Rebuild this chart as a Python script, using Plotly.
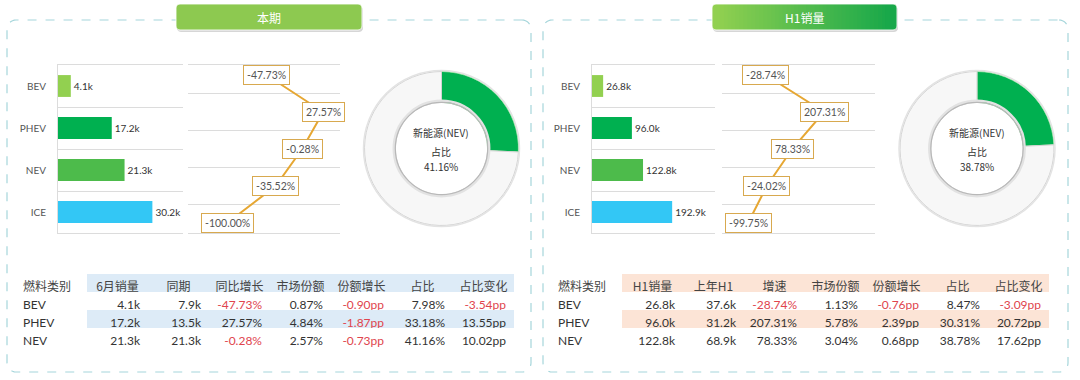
import math
import plotly.graph_objects as go

W, H = 1080, 380

# ---------------- data ----------------
categories = ["BEV", "PHEV", "NEV", "ICE"]
cur_sales_k = [4.1, 17.2, 21.3, 30.2]
h1_sales_k = [26.8, 96.0, 122.8, 192.9]

growth_cats = ["BEV", "PHEV", "NEV", "ICE", "其他"]
cur_growth = [-47.73, 27.57, -0.28, -35.52, -100.00]
h1_growth = [-28.74, 207.31, 78.33, -24.02, -99.75]

donut_labels = ["NEV", "其他"]
cur_donut = [41.16, 118.84]
h1_donut = [38.78, 121.22]
cur_nev_share = "41.16%"
h1_nev_share = "38.78%"

table_rows = ["BEV", "PHEV", "NEV"]
cur_header = ["燃料类别", "6月销量", "同期", "同比增长", "市场份额", "份额增长", "占比", "占比变化"]
cur_sales_col = ["4.1k", "17.2k", "21.3k"]
cur_prior_col = ["7.9k", "13.5k", "21.3k"]
cur_yoy_col = ["-47.73%", "27.57%", "-0.28%"]
cur_mshare_col = ["0.87%", "4.84%", "2.57%"]
cur_mshare_chg_col = ["-0.90pp", "-1.87pp", "-0.73pp"]
cur_ratio_col = ["7.98%", "33.18%", "41.16%"]
cur_ratio_chg_col = ["-3.54pp", "13.55pp", "10.02pp"]

h1_header = ["燃料类别", "H1销量", "上年H1", "增速", "市场份额", "份额增长", "占比", "占比变化"]
h1_sales_col = ["26.8k", "96.0k", "122.8k"]
h1_prior_col = ["37.6k", "31.2k", "68.9k"]
h1_growth_col = ["-28.74%", "207.31%", "78.33%"]
h1_mshare_col = ["1.13%", "5.78%", "3.04%"]
h1_mshare_chg_col = ["-0.76pp", "2.39pp", "0.68pp"]
h1_ratio_col = ["8.47%", "30.31%", "38.78%"]
h1_ratio_chg_col = ["-3.09pp", "20.72pp", "17.62pp"]

# ---------------- style ----------------
FONT = "Lato, Noto Sans CJK SC, sans-serif"
CJK = "Noto Sans CJK SC, sans-serif"
bar_colors = ["#92d050", "#00b050", "#4dbb4b", "#33c7f5"]
GRID = "#dcdcdc"
LINE_C = "#e6a733"
LABEL_BORDER = "#d8a94f"
RED = "#e0444d"
DARK = "#333333"
GREEN = "#00b050"


def fx(p):
    return p / W


def fy(p):
    return 1 - p / H


fig = go.Figure()
shapes = []


def circle(cx, cy, r, color, width):
    shapes.append(dict(type="circle", xref="paper", yref="paper",
                       x0=fx(cx - r), x1=fx(cx + r), y0=fy(cy + r), y1=fy(cy - r),
                       line=dict(color=color, width=width)))


def add_panel(sales, growth, donut, share_text, bar_dom, bar_rng, line_dom, line_rng,
              donut_cx, ax_bar, ax_line):
    xb, yb = ("x", "y") if ax_bar == 1 else (f"x{ax_bar}", f"y{ax_bar}")
    xl, yl = f"x{ax_line}", f"y{ax_line}"
    fig.add_trace(go.Bar(
        x=sales, y=categories, orientation="h", xaxis=xb, yaxis=yb,
        marker=dict(color=bar_colors, line=dict(width=0)), width=0.52,
        text=[f"{v:.1f}k" for v in sales], textposition="outside",
        textfont=dict(size=10, color=DARK, family=FONT), cliponaxis=False,
        showlegend=False, hoverinfo="skip"))
    fig.add_trace(go.Scatter(
        x=growth, y=growth_cats, mode="lines", xaxis=xl, yaxis=yl,
        line=dict(color=LINE_C, width=2), showlegend=False, hoverinfo="skip"))
    for v, c in zip(growth, growth_cats):
        fig.add_annotation(x=v, y=c, xref=xl, yref=yl, text=f"{v:.2f}%", showarrow=False,
                           xanchor="center", yanchor="middle",
                           bgcolor="white", bordercolor=LABEL_BORDER, borderwidth=1, borderpad=3,
                           font=dict(size=10.5, color="#555", family=FONT))
    ydom = [fy(233), fy(65)]
    axcommon = dict(showticklabels=False, zeroline=False, showgrid=False)
    k_b = "" if ax_bar == 1 else str(ax_bar)
    fig.layout[f"xaxis{k_b}"] = dict(domain=[fx(bar_dom[0]), fx(bar_dom[1])], range=bar_rng,
                                     anchor=yb, showline=True, mirror=True, linecolor=GRID,
                                     fixedrange=True, **axcommon)
    fig.layout[f"yaxis{k_b}"] = dict(domain=ydom, anchor=xb, type="category", autorange="reversed",
                                     tickson="boundaries", showgrid=True, gridcolor=GRID,
                                     showline=True, linecolor=GRID, ticks="", ticklabelstandoff=9,
                                     tickfont=dict(size=10, color="#555", family=FONT))
    fig.layout[f"xaxis{ax_line}"] = dict(domain=[fx(line_dom[0]), fx(line_dom[1])], range=line_rng,
                                         anchor=yl, showline=True, mirror=True, linecolor=GRID,
                                         **axcommon)
    fig.layout[f"yaxis{ax_line}"] = dict(domain=ydom, anchor=xl, type="category", autorange="reversed",
                                         tickson="boundaries", showgrid=True, gridcolor=GRID,
                                         showticklabels=False, ticks="", zeroline=False)
    R, CY = 77, 148.5
    fig.add_trace(go.Pie(
        values=donut, labels=donut_labels, hole=0.6, sort=False, direction="clockwise", rotation=0,
        marker=dict(colors=[GREEN, "#f7f7f7"], line=dict(color=["#9be3a6", "#d3d3d3"], width=1)),
        textinfo="none", hoverinfo="skip", showlegend=False,
        domain=dict(x=[fx(donut_cx - R), fx(donut_cx + R)], y=[fy(CY + R), fy(CY - R)])))
    ri = R * 0.6
    circle(donut_cx, CY, ri + 1.5, "#e2e2e2", 2.5)
    circle(donut_cx, CY, ri, "#b8b8b8", 1.2)
    circle(donut_cx, CY, R + 1, "#e3e3e3", 1.5)
    for txt, py in zip(["新能源(NEV)", "占比", share_text], [132, 151, 167]):
        fig.add_annotation(x=fx(donut_cx), y=fy(py), xref="paper", yref="paper", text=txt,
                           xanchor="center", yanchor="middle",
                           showarrow=False, font=dict(size=10, color=DARK, family=CJK))


add_panel(cur_sales_k, cur_growth, cur_donut, cur_nev_share, (58, 183), [0, 40],
          (188, 340), [-152, 50], 441.5, 1, 2)
add_panel(h1_sales_k, h1_growth, h1_donut, h1_nev_share, (592, 715), [0, 296],
          (722, 875), [-205, 413], 977, 3, 4)


# ---------------- tables ----------------
def add_table(header, cols, x_left, band_color):
    col0_w, col_w = 72, 61
    n = len(header)
    widths = [col0_w] + [col_w] * (n - 1)
    x_right = x_left + sum(widths)
    all_cols = [table_rows] + cols
    font_colors = []
    for j, col in enumerate(all_cols):
        font_colors.append([RED if (j > 0 and str(v).startswith("-")) else DARK for v in col])
    fills = []
    for j in range(n):
        if j == 0:
            fills.append(["white"] * 3)
        else:
            fills.append(["white", band_color, "white"])
    fig.add_trace(go.Table(
        domain=dict(x=[fx(x_left), fx(x_right)], y=[fy(360), fy(274)]),
        columnwidth=widths,
        header=dict(values=header, height=18,
                    fill=dict(color=["white"] + [band_color] * (n - 1)),
                    align=["left"] + ["center"] * (n - 1),
                    line=dict(color="rgba(0,0,0,0)", width=0),
                    font=dict(size=12, color="#444", family=CJK)),
        cells=dict(values=all_cols, height=18,
                   fill=dict(color=fills),
                   align=["left"] + ["right"] * (n - 1),
                   line=dict(color="rgba(0,0,0,0)", width=0),
                   font=dict(size=12, color=font_colors, family=FONT))))


add_table(cur_header, [cur_sales_col, cur_prior_col, cur_yoy_col, cur_mshare_col,
                       cur_mshare_chg_col, cur_ratio_col, cur_ratio_chg_col], 15, "#ddebf7")
add_table(h1_header, [h1_sales_col, h1_prior_col, h1_growth_col, h1_mshare_col,
                      h1_mshare_chg_col, h1_ratio_col, h1_ratio_chg_col], 550, "#fce4d6")


# ---------------- decorations ----------------
def rrect_poly(x0, y0, x1, y1, r, n=5):
    pts = []
    corners = [(x1 - r, y0 + r, -90, 0), (x1 - r, y1 - r, 0, 90),
               (x0 + r, y1 - r, 90, 180), (x0 + r, y0 + r, 180, 270)]
    for cx, cy, a0, a1 in corners:
        for i in range(n + 1):
            a = math.radians(a0 + (a1 - a0) * i / n)
            pts.append((cx + r * math.cos(a), cy + r * math.sin(a)))
    return "M " + " L ".join(f"{fx(px):.6f},{fy(py):.6f}" for px, py in pts) + " Z"


for (x0, x1) in [(7, 531), (543, 1068)]:
    shapes.append(dict(type="path", xref="paper", yref="paper", path=rrect_poly(x0, 20, x1, 372, 9, 8),
                       line=dict(color="#a6d6db", width=1.2, dash="dash"), layer="below"))


def hexc(c):
    return "#%02x%02x%02x" % c


def tab(x0, x1, c_left, c_right, title):
    y0, y1, r = 4, 30, 4
    shapes.append(dict(type="path", xref="paper", yref="paper", path=rrect_poly(x0 + 1, y0 + 2, x1 + 1, y1 + 2, r),
                       fillcolor="rgba(0,0,0,0.16)", line=dict(width=0)))
    shapes.append(dict(type="path", xref="paper", yref="paper", path=rrect_poly(x0, y0, x1, y1, r),
                       fillcolor=hexc(c_left), line=dict(width=0)))
    if c_left != c_right:
        shapes.append(dict(type="path", xref="paper", yref="paper", path=rrect_poly(x1 - 3 * r, y0, x1, y1, r),
                           fillcolor=hexc(c_right), line=dict(width=0)))
        n = 44
        sa, sb = x0 + r, x1 - 2 * r
        span = sb - sa
        for i in range(n):
            t = (i + 0.5) / n
            c = tuple(int(round(a + (b - a) * t)) for a, b in zip(c_left, c_right))
            sx0 = sa + span * i / n
            sx1 = min(sa + span * (i + 1) / n + 0.6, sb)
            shapes.append(dict(type="rect", xref="paper", yref="paper", x0=fx(sx0), x1=fx(sx1),
                               y0=fy(y1), y1=fy(y0), fillcolor=hexc(c), line=dict(width=0)))
    shapes.append(dict(type="path", xref="paper", yref="paper", path=rrect_poly(x0, y0, x1, y1, r),
                       line=dict(color="rgba(255,255,255,0.85)", width=1)))
    fig.add_annotation(x=fx((x0 + x1) / 2), y=fy((y0 + y1) / 2), xref="paper", yref="paper",
                       xanchor="center", yanchor="middle",
                       text=title, showarrow=False, font=dict(size=12, color="white", family=CJK))


tab(176, 362, (141, 201, 80), (141, 201, 80), "本期")
tab(712, 897, (146, 208, 80), (24, 168, 74), "H1销量")

fig.update_layout(shapes=shapes, width=W, height=H, autosize=False,
                  margin=dict(l=0, r=0, t=0, b=0), paper_bgcolor="white", plot_bgcolor="rgba(0,0,0,0)",
                  font=dict(family=FONT, size=10, color=DARK), showlegend=False)

fig.write_html("out.html")
